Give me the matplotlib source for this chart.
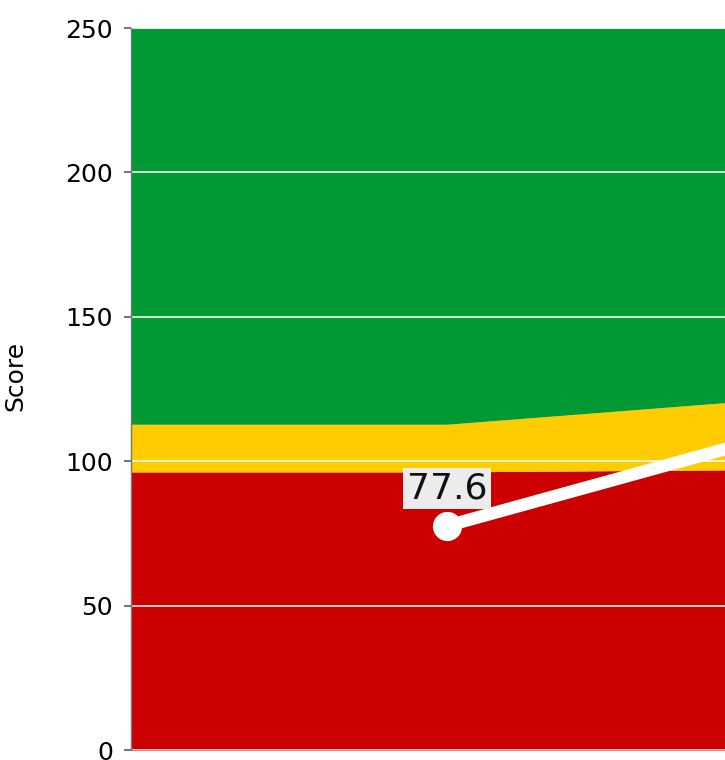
import matplotlib
matplotlib.use('Agg')
import matplotlib.pyplot as plt
import numpy as np

# band limits (score thresholds) along the x axis
band_x = [-1, 0, 1]
red_top = [96.3, 96.3, 97.1]
yellow_top = [112.8, 112.8, 121.3]
y_max = 250

# the score line
score_x = [0, 1]
scores = [77.6, 107.8]

y_ticks = [0, 50, 100, 150, 200, 250]

fig = plt.figure(figsize=(7.25, 7.6), dpi=100)
ax = fig.add_axes([131 / 725, 10 / 760, 594 / 725, 722 / 760])

ax.fill_between(band_x, 0, red_top, color='#cc0000', lw=0, zorder=1)
ax.fill_between(band_x, red_top, yellow_top, color='#ffcc00', lw=0, zorder=1)
ax.fill_between(band_x, yellow_top, y_max, color='#009933', lw=0, zorder=1)

for t in y_ticks:
    ax.axhline(t, color='white', alpha=0.8, lw=1.4, zorder=2)

ax.plot(score_x, scores, color='white', lw=9, solid_capstyle='round', zorder=3)
ax.plot(score_x[:1], scores[:1], 'o', color='white', ms=20, zorder=4)

ax.annotate('%.1f' % scores[0], xy=(score_x[0], scores[0]), xytext=(0, 27),
            textcoords='offset points', ha='center', va='center', fontsize=26,
            color='#111111', zorder=5,
            bbox=dict(boxstyle='square,pad=0.1', fc='#ececec', ec='none'))

ax.set_xlim(-1, 0.88)
ax.set_ylim(0, y_max)
ax.set_yticks(y_ticks)
ax.set_xticks([])
ax.tick_params(axis='y', length=5, width=1.5, color='#777777', pad=8, labelsize=18)
for s in ['top', 'right', 'bottom']:
    ax.spines[s].set_visible(False)
ax.spines['left'].set_color('#777777')
ax.spines['left'].set_linewidth(1)

ax.set_ylabel('Score', fontsize=18)
ax.yaxis.set_label_coords(-0.175, 0.518)

fig.savefig('out.png', dpi=100)
